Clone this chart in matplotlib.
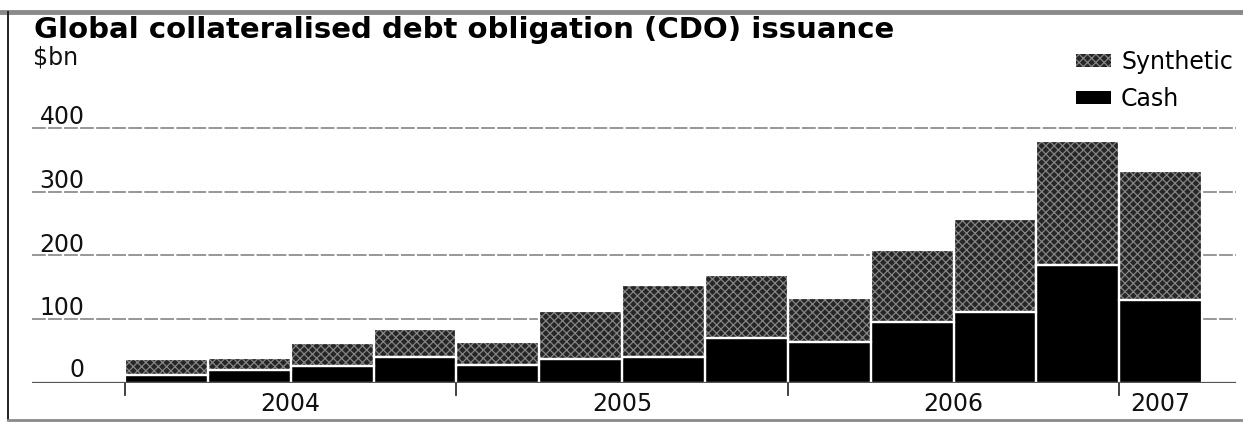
import matplotlib
matplotlib.use("Agg")
import matplotlib.pyplot as plt
from matplotlib.lines import Line2D
from matplotlib.patches import Patch
import numpy as np

# quarterly CDO issuance, $bn
quarters = ["2004 Q1", "2004 Q2", "2004 Q3", "2004 Q4",
            "2005 Q1", "2005 Q2", "2005 Q3", "2005 Q4",
            "2006 Q1", "2006 Q2", "2006 Q3", "2006 Q4",
            "2007 Q1"]
cash = [12, 20, 27, 41, 29, 37, 41, 70, 64, 96, 112, 185, 130]
total = [37, 40, 62, 84, 65, 113, 154, 169, 134, 208, 257, 379, 332]
synthetic = [t - c for t, c in zip(total, cash)]

years = ["2004", "2005", "2006", "2007"]
year_start = [0, 4, 8, 12]
year_end = [4, 8, 12, 13]
yticks = [0, 100, 200, 300, 400]

W, H = 1243, 423
fig = plt.figure(figsize=(W / 100, H / 100), dpi=100)
fig.patch.set_facecolor("white")

# axes placed in pixels: baseline at y=383, 400 at y=128
ax = fig.add_axes([32 / W, 40 / H, (1236 - 32) / W, (383 - 115.25) / H])
ax.set_xlim(-93 / 82.85, (1236 - 125) / 82.85)
ax.set_ylim(0, 420)
for s in ax.spines.values():
    s.set_visible(False)
ax.set_yticks([])
ax.set_xticks([])

# gridlines
for v in yticks[1:]:
    ax.axhline(v, color="#7a7a7a", lw=1.1, ls=(0, (9, 1.5)), zorder=0)
ax.axhline(0, color="#555555", lw=1.6, zorder=5)

x = np.arange(len(quarters))
plt.rcParams["hatch.linewidth"] = 0.9
syn_face, syn_hatch = "#262626", "#858585"

# cash at the bottom
ax.bar(x, cash, width=1, align="edge", color="black", linewidth=0, zorder=2)
# synthetic on top, dark base with a lighter texture
ax.bar(x, synthetic, bottom=cash, width=1, align="edge", color=syn_face,
       edgecolor=syn_hatch, hatch="xxxx", linewidth=0, zorder=2)
# white separators
ax.bar(x, cash, width=1, align="edge", fill=False, edgecolor="white",
       linewidth=1.6, zorder=3)
ax.bar(x, synthetic, bottom=cash, width=1, align="edge", fill=False,
       edgecolor="white", linewidth=1.6, zorder=3)

lab_font = dict(family="DejaVu Sans", fontsize=17, color="#111111")

# y labels sitting above their gridlines
for v in yticks:
    ax.annotate(str(v), xy=(-0.49, v), xycoords="data",
                xytext=(0, 4 * 0.72 if v else 6 * 0.72), textcoords="offset points",
                ha="right", va="baseline", **lab_font)

# year ticks and labels
for s in year_start:
    ax.add_line(Line2D([s, s], [0, -12 / 267.75], transform=ax.get_xaxis_transform(),
                       color="#333333", lw=1.3, clip_on=False))
for lbl, a, b in zip(years, year_start, year_end):
    ax.annotate(lbl, xy=((a + b) / 2, 0), xycoords=("data", "axes fraction"),
                xytext=(0, -28 * 0.72), textcoords="offset points",
                ha="center", va="baseline", **lab_font)

# title and unit
fig.text(34 / W, 1 - 38 / H, "Global collateralised debt obligation (CDO) issuance",
         fontsize=21, fontweight="heavy", family="DejaVu Sans", va="baseline")
fig.text(33 / W, 1 - 65 / H, "$bn", va="baseline", **lab_font)

# legend
handles = [Patch(facecolor=syn_face, edgecolor=syn_hatch, hatch="xxxx", linewidth=0),
           Patch(facecolor="black", linewidth=0)]
leg = fig.legend(handles, ["Synthetic", "Cash"], loc="upper right",
                 bbox_to_anchor=(1233 / W, 1 - 50 / H), frameon=False,
                 prop=dict(family="DejaVu Sans", size=17),
                 handlelength=1.45, handleheight=0.45, handletextpad=0.45,
                 labelspacing=0.55, borderaxespad=0, borderpad=0)

# frame of the original graphic
fig.add_artist(Line2D([0, 1], [1 - 12 / H] * 2, color="#8a8a8a", lw=3.5))
fig.add_artist(Line2D([8 / W] * 2, [1 - 12 / H, 1 - 420 / H], color="#222222", lw=1.4))
fig.add_artist(Line2D([8 / W, 1], [1 - 420 / H] * 2, color="#8a8a8a", lw=2))

fig.savefig("out.png", dpi=100, facecolor="white")
